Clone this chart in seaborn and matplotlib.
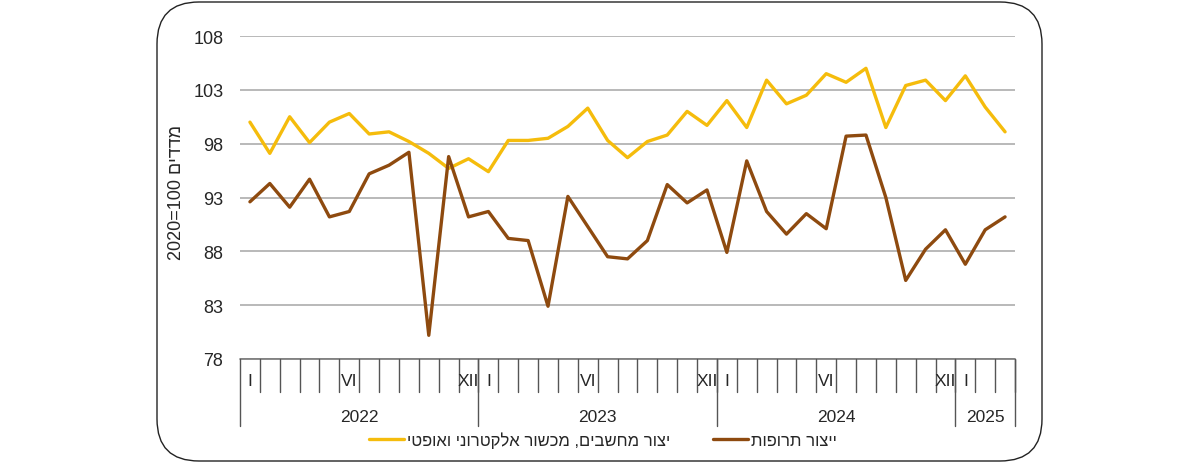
import matplotlib
matplotlib.use("Agg")
import matplotlib.pyplot as plt
import matplotlib.transforms as mtransforms
from matplotlib.patches import FancyBboxPatch
import pandas as pd
import seaborn as sns

# Monthly indices, Jan 2022 - Mar 2025
years = [2022, 2023, 2024, 2025]
months_per_year = [12, 12, 12, 3]
month_marks = {0: "I", 5: "VI", 11: "XII"}

computers = [
    100.0, 97.1, 100.5, 98.1, 100.0, 100.8, 98.9, 99.1, 98.2, 97.1, 95.7, 96.6,
    95.4, 98.3, 98.3, 98.5, 99.6, 101.3, 98.3, 96.7, 98.2, 98.8, 101.0, 99.7,
    102.0, 99.5, 103.9, 101.7, 102.5, 104.5, 103.7, 105.0, 99.5, 103.4, 103.9, 102.0,
    104.3, 101.4, 99.1,
]
pharma = [
    92.6, 94.3, 92.1, 94.7, 91.2, 91.7, 95.2, 96.0, 97.2, 80.2, 96.8, 91.2,
    91.7, 89.2, 89.0, 82.9, 93.1, 90.3, 87.5, 87.3, 89.0, 94.2, 92.5, 93.7,
    87.9, 96.4, 91.7, 89.6, 91.5, 90.1, 98.7, 98.8, 93.0, 85.3, 88.2, 90.0,
    86.8, 90.0, 91.2,
]
label_computers = "יצור מחשבים, מכשור אלקטרוני ואופטי"
label_pharma = "ייצור תרופות"
y_label = "מדדים 2020=100"


def visual(s):
    # matplotlib has no bidi support: reverse Hebrew runs, keep digits as-is
    parts = s.split(" ")
    out = []
    for p in parts:
        if any("\u0590" <= c <= "\u05ff" for c in p):
            out.append(p[::-1])
        else:
            out.append(p)
    return " ".join(out[::-1])


sns.set_style("white")
plt.rcParams["font.family"] = ["Liberation Sans", "DejaVu Sans"]

n = len(computers)
df = pd.DataFrame({
    "month": list(range(n)) * 2,
    "value": computers + pharma,
    "series": [visual(label_computers)] * n + [visual(label_pharma)] * n,
})

fig = plt.figure(figsize=(12, 4.64), dpi=100)
border = FancyBboxPatch((157 / 1200, 2 / 464), 885 / 1200, 459 / 464,
                        boxstyle="round,pad=0,rounding_size=0.035",
                        transform=fig.transFigure, facecolor="none",
                        edgecolor="#222222", linewidth=1.0, zorder=-1,
                        mutation_aspect=1200 / 464)
fig.patches.append(border)

ax = fig.add_axes([240 / 1200, 1 - 360 / 464, 775 / 1200, 323 / 464])
ax.set_facecolor("none")

sns.lineplot(data=df, x="month", y="value", hue="series",
             palette=["#F5BC0C", "#8E4A0F"], linewidth=2.4, ax=ax, legend=False)

ax.set_xlim(-0.5, n - 0.5)
ax.set_ylim(78, 108)
ax.set_yticks(range(78, 109, 5))
ax.yaxis.grid(True, color="#B3B3B3", linewidth=1.3)
ax.set_axisbelow(True)
for s in ["top", "right", "left", "bottom"]:
    ax.spines[s].set_visible(False)
ax.tick_params(axis="y", length=0, pad=12, labelsize=13)
ax.set_xticks([])
ax.set_xlabel("")
ax.set_ylabel(visual(y_label), fontsize=13)
ax.yaxis.set_label_coords(-0.071, 0.52)

# multi-level category axis
trans = mtransforms.blended_transform_factory(ax.transData, ax.transAxes)
ax.plot([-0.5, n - 0.5], [0, 0], color="#777777", lw=1.2, transform=trans, clip_on=False)
start = 0
year_edges = [-0.5]
for yr, cnt in zip(years, months_per_year):
    for m in range(cnt):
        i = start + m
        ax.plot([i + 0.5, i + 0.5], [0, -0.102], color="#555555", lw=1.0,
                transform=trans, clip_on=False)
        if m in month_marks:
            ax.text(i, -0.068, month_marks[m], ha="center", va="center",
                    fontsize=12.5, transform=trans)
    ax.text(start + (cnt - 1) / 2, -0.178, str(yr), ha="center", va="center",
            fontsize=12.5, transform=trans)
    start += cnt
    year_edges.append(start - 0.5)
for e in year_edges:
    ax.plot([e, e], [0, -0.207], color="#555555", lw=1.0, transform=trans, clip_on=False)

handles = [
    plt.Line2D([], [], color="#F5BC0C", lw=2.4),
    plt.Line2D([], [], color="#8E4A0F", lw=2.4),
]
fig.legend(handles, [visual(label_computers), visual(label_pharma)],
           loc="center", bbox_to_anchor=(603 / 1200, 1 - 441 / 464), ncol=2,
           frameon=False, fontsize=12, handlelength=2.1,
           handletextpad=0.15, columnspacing=2.6)

fig.savefig("out.png", dpi=100)
